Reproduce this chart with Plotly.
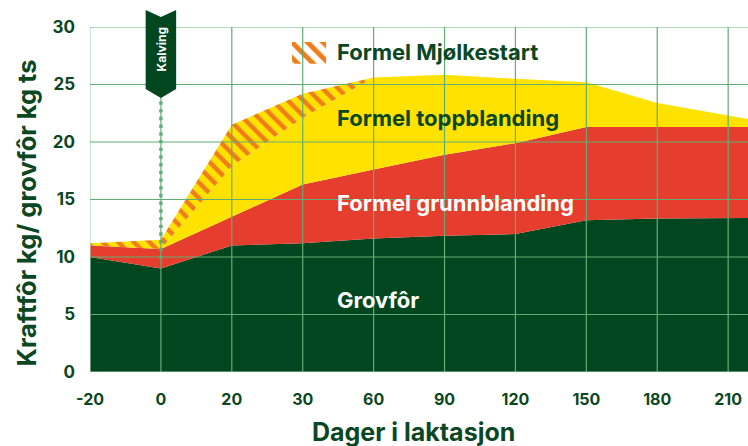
import plotly.graph_objects as go

# ---- data ----
categories = ["-20", "0", "20", "30", "60", "90", "120", "150", "180", "210"]
# last entry = value at the right edge of the (cropped) plot area
edge_pos = 9.28
grovfor       = [10.0, 9.0, 11.0, 11.2, 11.6, 11.85, 12.0, 13.2, 13.35, 13.4, 13.4]
grunnblanding = [1.0, 1.7, 2.5, 5.1, 6.0, 7.05, 7.9, 8.1, 7.95, 7.9, 7.9]
toppblanding  = [0.0, 0.0, 4.4, 5.8, 8.0, 6.95, 5.6, 3.9, 2.1, 1.0, 0.7]
mjolkestart   = [0.2, 0.8, 3.6, 2.1, 0.0, 0.0, 0.0, 0.0, 0.0, 0.0, 0.0]
y_ticks = [0, 5, 10, 15, 20, 25, 30]

DARK = "#00471f"
RED = "#e53d2e"
YEL = "#ffe200"
ORA = "#ee7d1a"
TXT = "#0a4722"
GRID = "#62ad74"
GRID_L = "#a6d4af"
FONT = "Inter"

xpos = list(range(len(categories))) + [edge_pos]

fig = go.Figure()
common = dict(x=xpos, mode="lines", line=dict(width=0), stackgroup="one",
              hoverinfo="skip", showlegend=False)
fig.add_trace(go.Scatter(y=grovfor, fillcolor=DARK, **common))
fig.add_trace(go.Scatter(y=grunnblanding, fillcolor=RED, **common))
fig.add_trace(go.Scatter(y=toppblanding, fillcolor=YEL, **common))
fig.add_trace(go.Scatter(y=mjolkestart, fillcolor=YEL,
                         fillpattern=dict(shape="\\", fgcolor=ORA, bgcolor=YEL,
                                          fgopacity=1, size=11, solidity=0.4), **common))

# legend swatch for Formel Mjølkestart (decoration)
fig.add_trace(go.Scatter(x=[2.85, 3.33, 3.33, 2.85, 2.85], y=[28.7, 28.7, 26.8, 26.8, 28.7],
                         mode="lines", line=dict(width=0), fill="toself", fillcolor=ORA,
                         fillpattern=dict(shape="\\", fgcolor=ORA, bgcolor="white",
                                          fgopacity=1, size=11, solidity=0.45),
                         hoverinfo="skip", showlegend=False))

shapes = []
# gridlines drawn above the areas
for i in range(len(categories)):
    shapes.append(dict(type="line", xref="x", yref="paper", x0=i, x1=i, y0=0, y1=1,
                       line=dict(color=GRID_L if i == 0 else GRID, width=1.2), layer="above"))
for t in y_ticks:
    shapes.append(dict(type="line", xref="paper", yref="y", x0=0, x1=1, y0=t, y1=t,
                       line=dict(color=GRID_L if t == 0 else GRID, width=1.2), layer="above"))
# calving dotted line
shapes.append(dict(type="line", xref="x", yref="paper", x0=1, x1=1, y0=0.328, y1=0.79,
                   line=dict(color="#5fae75", width=3.4, dash="3.4px,4.3px"), layer="above"))
# calving banner
shapes.append(dict(type="path", xref="x", yref="paper",
                   path="M 0.785,1.049 L 1,1.029 L 1.215,1.049 L 1.215,0.82 L 1,0.794 L 0.785,0.82 Z",
                   fillcolor=DARK, line=dict(width=0), layer="above"))

ann = []
def label(text, x, y, color, size=22, xanchor="center", **kw):
    ann.append(dict(text=text, x=x, y=y, xref="paper", yref="paper", showarrow=False,
                    xanchor=xanchor, yanchor="middle",
                    font=dict(family=FONT, size=size, color=color, weight="bold"), **kw))

label("Formel Mjølkestart", 0.372, 0.928, TXT, xanchor="left")
label("Formel toppblanding", 0.372, 0.736, TXT, xanchor="left")
label("Formel grunnblanding", 0.372, 0.49, "white", xanchor="left")
label("Grovfôr", 0.372, 0.209, "white", xanchor="left")
label("Kalving", 0.1079, 0.935, "white", size=12, textangle=-90)
label("Kraftfôr kg/ grovfôr kg ts", -0.096, 0.462, TXT, size=25.5, textangle=-90)
label("Dager i laktasjon", 0.491, -0.174, TXT, size=25)
fig.update_layout(annotations=ann, shapes=shapes)

fig.update_layout(
    width=748, height=446,
    margin=dict(l=90, r=0, t=27, b=74),
    paper_bgcolor="white", plot_bgcolor="white",
    showlegend=False,
    xaxis=dict(range=[0, edge_pos], tickmode="array",
               tickvals=list(range(len(categories))), ticktext=categories,
               showgrid=False, zeroline=False, showline=False, ticks="",
               ticklabelstandoff=16,
               tickfont=dict(family=FONT, size=16, color=TXT, weight="bold")),
    yaxis=dict(range=[0, 30], tickvals=y_ticks, showgrid=False, zeroline=False,
               showline=False, ticks="", ticklabelstandoff=14,
               tickfont=dict(family=FONT, size=17, color=TXT, weight="bold")),
)

fig.write_html("out.html", config={"displayModeBar": False},
               post_script="document.body.style.margin='0';document.body.style.overflow='hidden';")
